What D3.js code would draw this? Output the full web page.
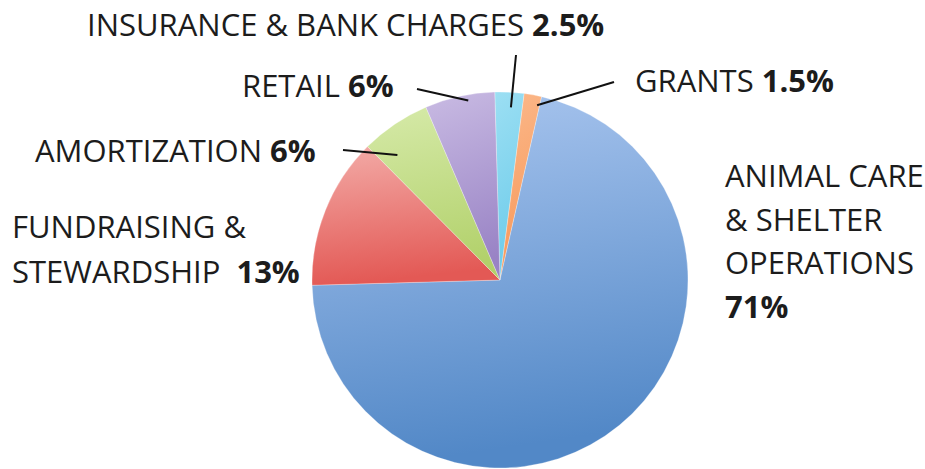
<!DOCTYPE html>
<html lang="en">
  <head>
    <meta charset="utf-8">
    <title>Expenses pie</title>
  </head>
  <style type="text/css">
    body { margin: 0; background: #fff; }
    text {
      font-family: "Open Sans", sans-serif;
      font-size: 31px;
      fill: #1c1c1c;
    }
    .pct { font-weight: bold; }
  </style>
  <body>
    <div id="svg-area"></div>

    <script type="text/javascript" src="https://cdn.jsdelivr.net/npm/d3@7"></script>
    <script>
      const svg_width = 925;
      const svg_height = 469;

      // data, in clockwise order starting near 12 o'clock
      const categories = ['INSURANCE & BANK CHARGES', 'GRANTS', 'ANIMAL CARE & SHELTER OPERATIONS',
                          'FUNDRAISING & STEWARDSHIP', 'AMORTIZATION', 'RETAIL'];
      const values = [2.5, 1.5, 71, 13, 6, 6];
      const pct_labels = ['2.5%', '1.5%', '71%', '13%', '6%', '6%'];

      // slice colours: light top, dark bottom
      const colors_top = ['#9cdff3', '#fbb88a', '#aac6ef', '#f3aca8', '#d6eaa9', '#c9bbe3'];
      const colors_bottom = ['#6ccbea', '#f7985a', '#5288c7', '#e35955', '#b2d16b', '#9983c5'];

      // label layout (lines of text, anchor position, leader line start,
      // and where the leader meets the slice: fraction along the slice, radius factor)
      const label_layout = [
        {lines: [['INSURANCE & BANK CHARGES ', 0]], x: 87, y: 36, lead: [516, 55], frac: 0.58, rf: 0.92},
        {lines: [['GRANTS ', 0]], x: 635, y: 92, lead: [614, 82], frac: 0.85, rf: 0.95},
        {lines: [['ANIMAL CARE', null], ['& SHELTER', null], ['OPERATIONS', null], ['', 0]], x: 725, y: 187, dy: 43.5},
        {lines: [['FUNDRAISING &', null], ['STEWARDSHIP  ', 0]], x: 12, y: 238, dy: 45},
        {lines: [['AMORTIZATION ', 0]], x: 35, y: 162, lead: [343, 150], frac: 0.25, rf: 0.86},
        {lines: [['RETAIL ', 0]], x: 242, y: 97, lead: [417, 89], frac: 0.61, rf: 0.97}
      ];

      const cx = 500, cy = 280, radius = 188;
      const start = -1.6 * Math.PI / 180;

      const pie_layout = d3.pie().sort(null)
        .startAngle(start).endAngle(start + 2 * Math.PI);
      const pie_data = pie_layout(values);

      const pie_arc = d3.arc().innerRadius(0).outerRadius(radius);

      const svg = d3.select('#svg-area')
        .append('svg')
        .attr('width', svg_width)
        .attr('height', svg_height);

      //gradients for each slice
      const defs = svg.append('defs');
      const grads = defs.selectAll('linearGradient')
        .data(values)
        .enter()
        .append('linearGradient')
        .attr('id', (d, i) => 'g' + i)
        .attr('x1', 0).attr('y1', 0).attr('x2', 0.15).attr('y2', 1);
      grads.append('stop').attr('offset', '0%').attr('stop-color', (d, i) => colors_top[i]);
      grads.append('stop').attr('offset', '100%').attr('stop-color', (d, i) => colors_bottom[i]);

      const pie_g = svg.append('g')
        .attr('transform', `translate(${cx},${cy})`);

      pie_g.selectAll('path.slice')
        .data(pie_data)
        .enter()
        .append('path')
        .attr('class', 'slice')
        .attr('fill', (d, i) => `url(#g${i})`)
        .attr('stroke', 'rgba(255,255,255,0.35)')
        .attr('stroke-width', 0.8)
        .attr('d', pie_arc);

      //leader lines
      pie_data.forEach((d, i) => {
        const lay = label_layout[i];
        if (!lay.lead) return;
        const a = d.startAngle + lay.frac * (d.endAngle - d.startAngle);
        const r = radius * lay.rf;
        svg.append('line')
          .attr('x1', lay.lead[0]).attr('y1', lay.lead[1])
          .attr('x2', cx + r * Math.sin(a)).attr('y2', cy - r * Math.cos(a))
          .attr('stroke', '#111')
          .attr('stroke-width', 2);
      });

      //labels
      label_layout.forEach((lay, i) => {
        const dy = lay.dy || 0;
        lay.lines.forEach((ln, j) => {
          const t = svg.append('text')
            .attr('x', lay.x)
            .attr('y', lay.y + j * dy);
          t.append('tspan').text(ln[0]).style('white-space', 'pre');
          if (ln[1] !== null) {
            t.append('tspan').attr('class', 'pct').text(pct_labels[i]);
          }
        });
      });
    </script>
  </body>
</html>
